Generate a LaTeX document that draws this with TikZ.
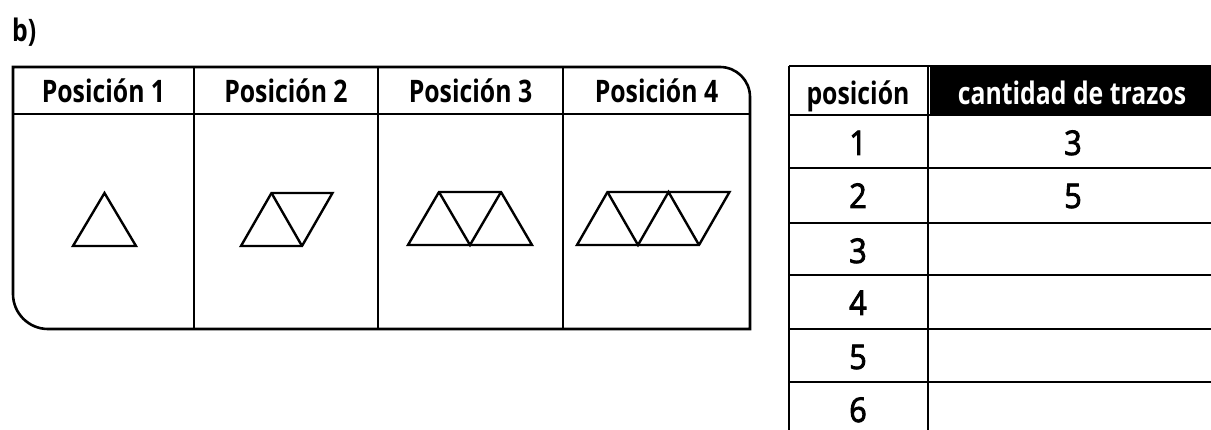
\documentclass[tikz,border=0pt]{standalone}
\usepackage{fontspec}
\setmainfont{Open Sans}[FakeStretch=0.8]
\newfontfamily\digitfont{Open Sans}[FakeBold=2.5,FakeStretch=0.9]
\begin{document}
\begin{tikzpicture}[x=1pt,y=-1pt,
  frame/.style={line width=2.6pt,line join=miter},
  tri/.style={line width=2.4pt,line join=miter},
  head/.style={anchor=base,inner sep=0pt,font=\fontsize{31}{31}\selectfont\bfseries},
  num/.style={anchor=base,inner sep=0pt,font=\fontsize{34}{34}\digitfont}]
\useasboundingbox (0,0) rectangle (1211,430);
% label
\node[anchor=base west,inner sep=0pt,font=\fontsize{31}{31}\selectfont\bfseries] (lbl) at (12,42) {b)};
% left table
\draw[frame] (13,67) -- (720,67) .. controls (736.6,67) and (750,80.4) .. (750,97)
  -- (750,329) -- (48,329) .. controls (28.7,329) and (13,313.3) .. (13,294) -- cycle;
\draw[frame] (13,114) -- (750,114);
\foreach \x in {194,378,563} \draw[frame] (\x,67) -- (\x,329);
\node[head] (p1) at (103.5,103) {Posición 1};
\node[head] (p2) at (286,103) {Posición 2};
\node[head] (p3) at (470.5,103) {Posición 3};
\node[head] (p4) at (656.5,103) {Posición 4};
% triangles
\draw[tri] (73,246) -- (104.5,193) -- (136,246) -- cycle;
\draw[tri] (241,246) -- (271.5,193) -- (332.5,193) -- (302,246) -- cycle;
\draw[tri] (271.5,193) -- (302,246);
\draw[tri] (408,245) -- (439,192) -- (501,192) -- (532,245) -- cycle;
\draw[tri] (439,192) -- (470,245) -- (501,192);
\draw[tri] (577,245) -- (607.5,192) -- (729.5,192) -- (699,245) -- cycle;
\draw[tri] (607.5,192) -- (638,245) -- (668.5,192) -- (699,245);
% right table
\fill[black] (930,66) rectangle (1211,115);
\draw[frame] (789,66) -- (1211,66);
\draw[frame] (789,66) -- (789,430);
\draw[frame] (928,66) -- (928,430);
\foreach \y in {115,168,223,275,329,382} \draw[frame] (789,\y) -- (1211,\y);
\node[head] (hpos) at (858,105) {posición};
\node[head,text=white] (hcant) at (1072,105) {cantidad de trazos};
\node[num] (r1) at (858,155) {1};
\node[num] (r2) at (858,208) {2};
\node[num] (r3) at (858,263) {3};
\node[num] (r4) at (858,315) {4};
\node[num] (r5) at (858,369) {5};
\node[num] (r6) at (858,422) {6};
\node[num] (v1) at (1073,155) {3};
\node[num] (v2) at (1073,208) {5};
\end{tikzpicture}
\end{document}
